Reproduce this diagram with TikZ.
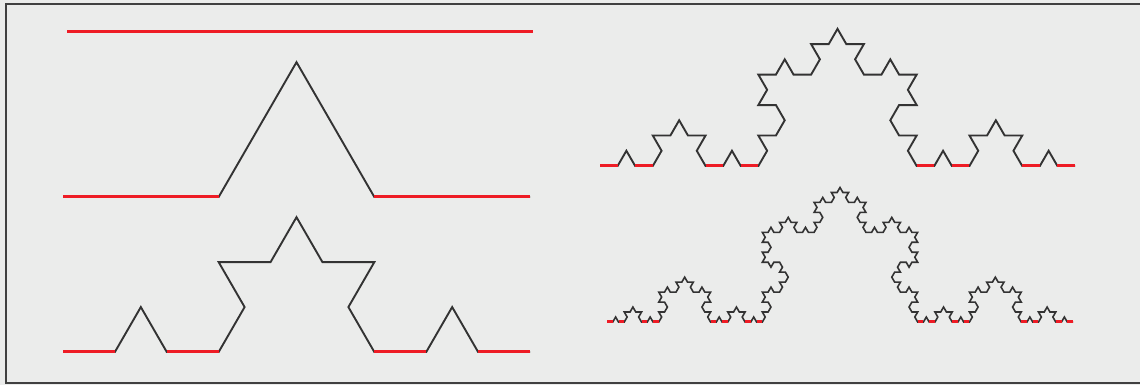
\documentclass[tikz,border=0pt]{standalone}
\usetikzlibrary{lindenmayersystems}
\definecolor{bg}{HTML}{EBECEB}
\definecolor{frm}{HTML}{404040}
\definecolor{kred}{HTML}{EE1C25}
\definecolor{kblk}{HTML}{333333}
\pgfdeclarelindenmayersystem{Koch}{\rule{F -> F+F--F+F}}
\tikzset{
  blk/.style={draw=kblk, line width=1.9pt, line join=miter},
  redseg/.style={draw=kred, line width=3pt, line cap=butt},
  fine/.style={draw=kblk, line width=1.6pt, line join=miter}
}
\begin{document}
\begin{tikzpicture}[x=1pt,y=1pt]
\useasboundingbox (0,0) rectangle (1140,385);
\fill[bg] (0,0) rectangle (1140,385);
\draw[frm, line width=2pt] (1145,2) -- (6,2) -- (6,381) -- (1145,381);
% iteration 0
\draw[redseg] (67,353) -- (533,353);
% iteration 1
\begin{scope}[shift={(63,188)}]
  \draw[blk, l-system={Koch, axiom=F, order=1, step=155.667pt, angle=60}] lindenmayer system;
  \foreach \i in {0,2} \draw[redseg] (\i*155.667,0) -- ++(155.667,0);
\end{scope}
% iteration 2
\begin{scope}[shift={(63,33)}]
  \draw[blk, l-system={Koch, axiom=F, order=2, step=51.889pt, angle=60}] lindenmayer system;
  \foreach \i in {0,2,6,8} \draw[redseg] (\i*51.889,0) -- ++(51.889,0);
\end{scope}
% iteration 3
\begin{scope}[shift={(600,219)}]
  \draw[blk, l-system={Koch, axiom=F, order=3, step=17.593pt, angle=60}] lindenmayer system;
  \foreach \i in {0,2,6,8,18,20,24,26} \draw[redseg] (\i*17.593,0) -- ++(17.593,0);
\end{scope}
% iteration 4
\begin{scope}[shift={(607,63)}]
  \draw[fine, l-system={Koch, axiom=F, order=4, step=5.753pt, angle=60}] lindenmayer system;
  \foreach \i in {0,2,6,8,18,20,24,26,54,56,60,62,72,74,78,80} \draw[redseg] (\i*5.753,0) -- ++(5.753,0);
\end{scope}
\end{tikzpicture}
\end{document}
